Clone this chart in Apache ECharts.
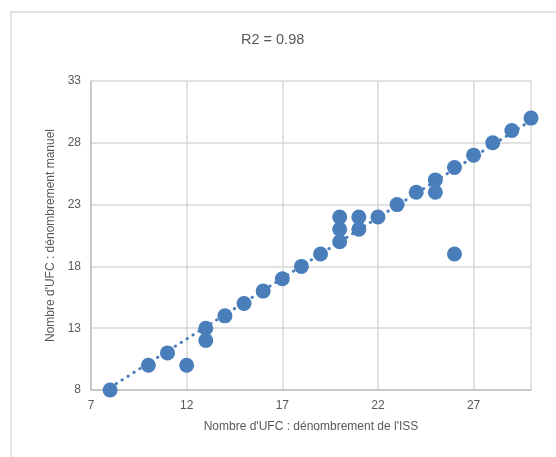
<!DOCTYPE html>
<html>
<head>
<meta charset="utf-8">
<script src="https://cdn.jsdelivr.net/npm/echarts@6/dist/echarts.min.js"></script>
<style>
  html, body { margin: 0; padding: 0; background: #fff; }
  #chart { width: 556px; height: 457px; }
</style>
</head>
<body>
<div id="chart"></div>
<script>
// data
const issCounts = [8, 10, 11, 12, 13, 13, 14, 15, 16, 17, 18, 19, 20, 20, 20, 21, 21, 22, 23, 24, 25, 25, 26, 26, 27, 28, 29, 30]
const manualCounts = [8, 10, 11, 10, 13, 12, 14, 15, 16, 17, 18, 19, 20, 21, 22, 21, 22, 22, 23, 24, 25, 24, 26, 19, 27, 28, 29, 30]
const trendX = [8, 30]
const trendY = [8.2, 29.8]
const xTicks = [7, 12, 17, 22, 27]
const yTicks = [8, 13, 18, 23, 28, 33]

const colorList = ['#4a7ebb', '#595959', '#d9d9d9', '#bfbfbf']

const chart = echarts.init(document.getElementById('chart'))
const font = 'Helvetica, "Liberation Sans", Arial, sans-serif'

const option = {
  animation: false,
  graphic: [
    {
      type: 'rect',
      shape: { x: 11, y: 12, width: 600, height: 500 },
      style: { fill: 'none', stroke: colorList[2], lineWidth: 1.5 }
    }
  ],
  title: {
    text: 'R2 = 0.98',
    left: 236,
    top: 27,
    textStyle: { color: colorList[1], fontSize: 14.5, fontWeight: 'normal', fontFamily: font }
  },
  grid: { left: 91, top: 81, width: 440, height: 309 },
  xAxis: {
    type: 'value',
    min: 7,
    max: 30,
    interval: 5,
    name: "Nombre d'UFC : dénombrement de l'ISS",
    nameLocation: 'middle',
    nameGap: 31,
    nameTextStyle: { color: colorList[1], fontSize: 12, fontFamily: font },
    axisLine: { lineStyle: { color: colorList[3], width: 1.5 } },
    axisTick: { show: false },
    axisLabel: {
      color: colorList[1], fontSize: 12, fontFamily: font, margin: 10,
      showMaxLabel: false,
      formatter: v => xTicks.includes(v) ? String(v) : ''
    },
    splitLine: { lineStyle: { color: colorList[2], width: 1.5 } }
  },
  yAxis: {
    type: 'value',
    min: 8,
    max: 33,
    interval: 5,
    name: "Nombre d'UFC : dénombrement manuel",
    nameLocation: 'middle',
    nameGap: 31,
    nameTextStyle: { color: colorList[1], fontSize: 12, fontFamily: font },
    axisLine: { show: true, lineStyle: { color: colorList[3], width: 1.5 } },
    axisTick: { show: false },
    axisLabel: {
      color: colorList[1], fontSize: 12, fontFamily: font, margin: 10,
      formatter: v => yTicks.includes(v) ? String(v) : ''
    },
    splitLine: { lineStyle: { color: colorList[2], width: 1.5 } }
  },
  series: [
    {
      type: 'line',
      data: trendX.map((x, i) => [x, trendY[i]]),
      showSymbol: false,
      symbol: 'none',
      lineStyle: { color: colorList[0], width: 3, type: [0.5, 6.5], cap: 'round' },
      z: 3
    },
    {
      type: 'scatter',
      data: issCounts.map((x, i) => [x, manualCounts[i]]),
      symbolSize: 15,
      itemStyle: { color: colorList[0], opacity: 1 },
      z: 2
    }
  ]
}

chart.setOption(option)
</script>
</body>
</html>
